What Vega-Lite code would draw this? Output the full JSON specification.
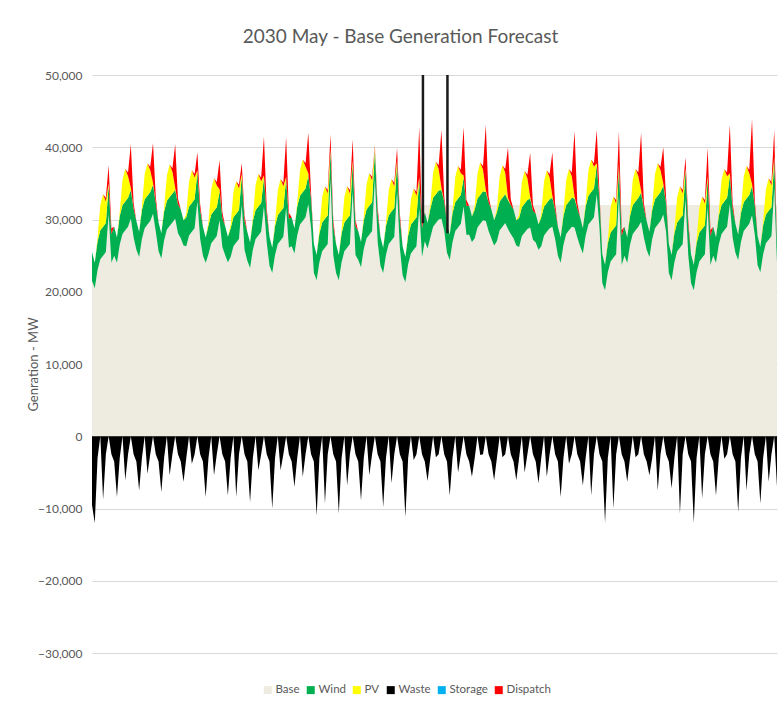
{
"$schema": "https://vega.github.io/schema/vega-lite/v6.json",
"width": 685,
"height": 578,
"autosize": "none",
"padding": {"left": 92, "top": 75, "right": 5, "bottom": 66},
"background": "white",
"title": {"text": "2030 May - Base Generation Forecast", "fontSize": 19, "font": "Lato", "fontWeight": "normal", "color": "#595959", "anchor": "middle", "dx": -34, "offset": 22},
"config": {"view": {"stroke": null}},
"datasets": {
"plateau": [{"t":358,"v":32000},{"t":741,"v":32000}],
"spikes": [{"t":358,"lo":29500,"hi":50000},{"t":384.5,"lo":28100,"hi":50000}],
"gen": [
{"t":0,"b":21500,"w":25500,"p":25500,"d":25500,"x":-9500},
{"t":3,"b":20500,"w":24000,"p":24000,"d":24000,"x":-12000},
{"t":6,"b":23000,"w":27000,"p":27500,"d":27500,"x":-3000},
{"t":9,"b":24500,"w":28500,"p":32000,"d":32000,"x":0},
{"t":12,"b":25000,"w":29000,"p":33500,"d":33500,"x":-8800},
{"t":15,"b":25500,"w":29500,"p":32500,"d":33000,"x":-2500},
{"t":18,"b":30700,"w":34700,"p":35000,"d":37500,"x":0},
{"t":21,"b":24000,"w":28000,"p":28000,"d":28800,"x":-2500},
{"t":24,"b":25000,"w":29000,"p":29000,"d":29000,"x":-3500},
{"t":27,"b":24000,"w":27500,"p":27500,"d":27500,"x":-8400},
{"t":30,"b":26500,"w":30500,"p":31000,"d":31000,"x":-3000},
{"t":33,"b":28000,"w":32000,"p":35500,"d":35500,"x":0},
{"t":36,"b":28500,"w":32500,"p":37000,"d":37000,"x":-6100},
{"t":39,"b":29000,"w":33000,"p":36000,"d":36500,"x":-2500},
{"t":42,"b":30100,"w":34100,"p":34400,"d":40400,"x":0},
{"t":45,"b":27500,"w":31500,"p":31500,"d":32300,"x":-2500},
{"t":48,"b":25800,"w":29800,"p":29800,"d":29800,"x":-3500},
{"t":51,"b":24800,"w":28300,"p":28300,"d":28300,"x":-7500},
{"t":54,"b":27300,"w":31300,"p":31800,"d":31800,"x":-3000},
{"t":57,"b":28800,"w":32800,"p":36300,"d":36300,"x":0},
{"t":60,"b":29300,"w":33300,"p":37800,"d":37800,"x":-5200},
{"t":63,"b":29800,"w":33800,"p":36800,"d":37300,"x":-2500},
{"t":66,"b":30800,"w":34800,"p":35100,"d":40600,"x":0},
{"t":69,"b":28300,"w":32300,"p":32300,"d":33100,"x":-2500},
{"t":72,"b":25600,"w":29600,"p":29600,"d":29600,"x":-3500},
{"t":75,"b":24600,"w":28100,"p":28100,"d":28100,"x":-7700},
{"t":78,"b":27100,"w":31100,"p":31600,"d":31600,"x":-3000},
{"t":81,"b":28600,"w":32600,"p":36100,"d":36100,"x":0},
{"t":84,"b":29100,"w":33100,"p":37600,"d":37600,"x":-5400},
{"t":87,"b":29600,"w":33600,"p":36600,"d":37100,"x":-2500},
{"t":90,"b":30100,"w":34100,"p":34400,"d":40400,"x":0},
{"t":93,"b":28100,"w":32100,"p":32100,"d":32900,"x":-2500},
{"t":96,"b":27400,"w":31400,"p":31400,"d":31400,"x":-3500},
{"t":99,"b":26400,"w":29900,"p":29900,"d":29900,"x":-6300},
{"t":102,"b":26300,"w":30300,"p":30800,"d":30800,"x":-3000},
{"t":105,"b":27800,"w":31800,"p":35300,"d":35300,"x":0},
{"t":108,"b":28300,"w":32300,"p":36800,"d":36800,"x":-3800},
{"t":111,"b":28800,"w":32800,"p":35800,"d":36300,"x":-2500},
{"t":114,"b":32500,"w":36500,"p":36800,"d":39300,"x":0},
{"t":117,"b":27300,"w":31300,"p":31300,"d":32100,"x":-2500},
{"t":120,"b":25000,"w":29000,"p":29000,"d":29000,"x":-3500},
{"t":123,"b":24000,"w":27500,"p":27500,"d":27500,"x":-8400},
{"t":126,"b":25200,"w":29200,"p":29700,"d":29700,"x":-3000},
{"t":129,"b":26700,"w":30700,"p":34200,"d":34200,"x":0},
{"t":132,"b":27200,"w":31200,"p":35700,"d":35700,"x":-5400},
{"t":135,"b":27700,"w":31700,"p":34700,"d":35200,"x":-2500},
{"t":138,"b":29900,"w":33900,"p":34200,"d":38200,"x":0},
{"t":141,"b":26200,"w":30200,"p":30200,"d":31000,"x":-2500},
{"t":144,"b":25100,"w":29100,"p":29100,"d":29100,"x":-3500},
{"t":147,"b":24100,"w":27600,"p":27600,"d":27600,"x":-8200},
{"t":150,"b":24800,"w":28800,"p":29300,"d":29300,"x":-3000},
{"t":153,"b":26300,"w":30300,"p":33800,"d":33800,"x":0},
{"t":156,"b":26800,"w":30800,"p":35300,"d":35300,"x":-8400},
{"t":159,"b":27300,"w":31300,"p":34300,"d":34800,"x":-2500},
{"t":162,"b":32000,"w":36000,"p":36300,"d":37800,"x":0},
{"t":165,"b":25800,"w":29800,"p":29800,"d":30600,"x":-2500},
{"t":168,"b":24300,"w":28300,"p":28300,"d":28300,"x":-3500},
{"t":171,"b":23300,"w":26800,"p":26800,"d":26800,"x":-9100},
{"t":174,"b":25800,"w":29800,"p":30300,"d":30300,"x":-3000},
{"t":177,"b":27300,"w":31300,"p":34800,"d":34800,"x":0},
{"t":180,"b":27800,"w":31800,"p":36300,"d":36300,"x":-4700},
{"t":183,"b":28300,"w":32300,"p":35300,"d":35800,"x":-2500},
{"t":186,"b":31800,"w":35800,"p":36100,"d":41500,"x":0},
{"t":189,"b":26800,"w":30800,"p":30800,"d":31600,"x":-2500},
{"t":192,"b":23600,"w":27600,"p":27600,"d":27600,"x":-3500},
{"t":195,"b":22600,"w":26100,"p":26100,"d":26100,"x":-10000},
{"t":198,"b":25100,"w":29100,"p":29600,"d":29600,"x":-3000},
{"t":201,"b":26600,"w":30600,"p":34100,"d":34100,"x":0},
{"t":204,"b":27100,"w":31100,"p":35600,"d":35600,"x":-4700},
{"t":207,"b":27600,"w":31600,"p":34600,"d":35100,"x":-2500},
{"t":210,"b":31600,"w":35600,"p":35900,"d":41400,"x":0},
{"t":213,"b":26100,"w":30100,"p":30100,"d":30900,"x":-2500},
{"t":216,"b":26300,"w":30300,"p":30300,"d":30300,"x":-3500},
{"t":219,"b":25300,"w":28800,"p":28800,"d":28800,"x":-7000},
{"t":222,"b":27800,"w":31800,"p":32300,"d":32300,"x":-3000},
{"t":225,"b":29300,"w":33300,"p":36800,"d":36800,"x":0},
{"t":228,"b":29800,"w":33800,"p":38300,"d":38300,"x":-5600},
{"t":231,"b":30300,"w":34300,"p":37300,"d":37800,"x":-2500},
{"t":234,"b":32100,"w":36100,"p":36400,"d":42000,"x":0},
{"t":237,"b":28800,"w":32800,"p":32800,"d":33600,"x":-2500},
{"t":240,"b":22600,"w":26600,"p":26600,"d":26600,"x":-3500},
{"t":243,"b":21600,"w":25100,"p":25100,"d":25100,"x":-11000},
{"t":246,"b":24100,"w":28100,"p":28600,"d":28600,"x":-3000},
{"t":249,"b":25600,"w":29600,"p":33100,"d":33100,"x":0},
{"t":252,"b":26100,"w":30100,"p":34600,"d":34600,"x":-9300},
{"t":255,"b":26600,"w":30600,"p":33600,"d":34100,"x":-2500},
{"t":258,"b":35500,"w":39500,"p":39800,"d":41800,"x":0},
{"t":261,"b":25100,"w":29100,"p":29100,"d":29900,"x":-2500},
{"t":264,"b":22600,"w":26600,"p":26600,"d":26600,"x":-3500},
{"t":267,"b":21600,"w":25100,"p":25100,"d":25100,"x":-10700},
{"t":270,"b":24100,"w":28100,"p":28600,"d":28600,"x":-3000},
{"t":273,"b":25600,"w":29600,"p":33100,"d":33100,"x":0},
{"t":276,"b":26100,"w":30100,"p":34600,"d":34600,"x":-6800},
{"t":279,"b":26600,"w":30600,"p":33600,"d":34100,"x":-2500},
{"t":282,"b":33900,"w":37900,"p":38200,"d":41100,"x":0},
{"t":285,"b":25100,"w":29100,"p":29100,"d":29900,"x":-2500},
{"t":288,"b":24400,"w":28400,"p":28400,"d":28400,"x":-3500},
{"t":291,"b":23400,"w":26900,"p":26900,"d":26900,"x":-8900},
{"t":294,"b":25900,"w":29900,"p":30400,"d":30400,"x":-3000},
{"t":297,"b":27400,"w":31400,"p":34900,"d":34900,"x":0},
{"t":300,"b":27900,"w":31900,"p":36400,"d":36400,"x":-5400},
{"t":303,"b":28400,"w":32400,"p":35400,"d":35900,"x":-2500},
{"t":306,"b":35600,"w":39600,"p":39900,"d":40200,"x":0},
{"t":309,"b":26900,"w":30900,"p":30900,"d":31700,"x":-2500},
{"t":312,"b":23600,"w":27600,"p":27600,"d":27600,"x":-3500},
{"t":315,"b":22600,"w":26100,"p":26100,"d":26100,"x":-9800},
{"t":318,"b":25100,"w":29100,"p":29600,"d":29600,"x":-3000},
{"t":321,"b":26600,"w":30600,"p":34100,"d":34100,"x":0},
{"t":324,"b":27100,"w":31100,"p":35600,"d":35600,"x":-6500},
{"t":327,"b":27600,"w":31600,"p":34600,"d":35100,"x":-2500},
{"t":330,"b":33900,"w":37900,"p":38200,"d":39900,"x":0},
{"t":333,"b":26100,"w":30100,"p":30100,"d":30900,"x":-2500},
{"t":336,"b":22300,"w":26300,"p":26300,"d":26300,"x":-3500},
{"t":339,"b":21300,"w":24800,"p":24800,"d":24800,"x":-11200},
{"t":342,"b":23800,"w":27800,"p":28300,"d":28300,"x":-3000},
{"t":345,"b":25300,"w":29300,"p":32800,"d":32800,"x":0},
{"t":348,"b":25800,"w":29800,"p":34300,"d":34300,"x":-3300},
{"t":351,"b":26300,"w":30300,"p":33300,"d":33800,"x":-2500},
{"t":354,"b":31500,"w":35500,"p":35800,"d":42800,"x":0},
{"t":357,"b":24800,"w":28800,"p":28800,"d":29600,"x":-2500},
{"t":360,"b":27000,"w":31000,"p":31000,"d":31000,"x":-3500},
{"t":363,"b":26000,"w":29500,"p":29500,"d":29500,"x":-6200},
{"t":366,"b":27500,"w":31500,"p":32000,"d":32000,"x":-3000},
{"t":369,"b":29000,"w":33000,"p":36500,"d":36500,"x":0},
{"t":372,"b":29500,"w":33500,"p":38000,"d":38000,"x":-2900},
{"t":375,"b":30000,"w":34000,"p":37000,"d":37500,"x":-2500},
{"t":378,"b":30100,"w":34100,"p":34400,"d":42400,"x":0},
{"t":381,"b":28500,"w":32500,"p":32500,"d":33300,"x":-2500},
{"t":384,"b":25400,"w":29400,"p":29400,"d":29400,"x":-3500},
{"t":387,"b":24400,"w":27900,"p":27900,"d":27900,"x":-8200},
{"t":390,"b":26900,"w":30900,"p":31400,"d":31400,"x":-3000},
{"t":393,"b":28400,"w":32400,"p":35900,"d":35900,"x":0},
{"t":396,"b":28900,"w":32900,"p":37400,"d":37400,"x":-5000},
{"t":399,"b":29400,"w":33400,"p":36400,"d":36900,"x":-2500},
{"t":402,"b":31800,"w":35800,"p":36100,"d":42800,"x":0},
{"t":405,"b":27900,"w":31900,"p":31900,"d":32700,"x":-2500},
{"t":408,"b":27900,"w":31900,"p":31900,"d":31900,"x":-3500},
{"t":411,"b":26900,"w":30400,"p":30400,"d":30400,"x":-5600},
{"t":414,"b":27400,"w":31400,"p":31900,"d":31900,"x":-3000},
{"t":417,"b":28900,"w":32900,"p":36400,"d":36400,"x":0},
{"t":420,"b":29400,"w":33400,"p":37900,"d":37900,"x":-2600},
{"t":423,"b":29900,"w":33900,"p":36900,"d":37400,"x":-2500},
{"t":426,"b":29800,"w":33800,"p":34100,"d":43100,"x":0},
{"t":429,"b":28400,"w":32400,"p":32400,"d":33200,"x":-2500},
{"t":432,"b":27400,"w":31400,"p":31400,"d":31400,"x":-3500},
{"t":435,"b":26400,"w":29900,"p":29900,"d":29900,"x":-6100},
{"t":438,"b":27000,"w":31000,"p":31500,"d":31500,"x":-3000},
{"t":441,"b":28500,"w":32500,"p":36000,"d":36000,"x":0},
{"t":444,"b":29000,"w":33000,"p":37500,"d":37500,"x":-2900},
{"t":447,"b":29500,"w":33500,"p":36500,"d":37000,"x":-2500},
{"t":450,"b":28700,"w":32700,"p":33000,"d":40000,"x":0},
{"t":453,"b":28000,"w":32000,"p":32000,"d":32800,"x":-2500},
{"t":456,"b":27400,"w":31400,"p":31400,"d":31400,"x":-3500},
{"t":459,"b":26400,"w":29900,"p":29900,"d":29900,"x":-6100},
{"t":462,"b":26200,"w":30200,"p":30700,"d":30700,"x":-3000},
{"t":465,"b":27700,"w":31700,"p":35200,"d":35200,"x":0},
{"t":468,"b":28200,"w":32200,"p":36700,"d":36700,"x":-5000},
{"t":471,"b":28700,"w":32700,"p":35700,"d":36200,"x":-2500},
{"t":474,"b":28900,"w":32900,"p":33200,"d":39200,"x":0},
{"t":477,"b":27200,"w":31200,"p":31200,"d":32000,"x":-2500},
{"t":480,"b":26800,"w":30800,"p":30800,"d":30800,"x":-3500},
{"t":483,"b":25800,"w":29300,"p":29300,"d":29300,"x":-6500},
{"t":486,"b":26300,"w":30300,"p":30800,"d":30800,"x":-3000},
{"t":489,"b":27800,"w":31800,"p":35300,"d":35300,"x":0},
{"t":492,"b":28300,"w":32300,"p":36800,"d":36800,"x":-5600},
{"t":495,"b":28800,"w":32800,"p":35800,"d":36300,"x":-2500},
{"t":498,"b":29000,"w":33000,"p":33300,"d":39300,"x":0},
{"t":501,"b":27300,"w":31300,"p":31300,"d":32100,"x":-2500},
{"t":504,"b":25000,"w":29000,"p":29000,"d":29000,"x":-3500},
{"t":507,"b":24000,"w":27500,"p":27500,"d":27500,"x":-8400},
{"t":510,"b":26500,"w":30500,"p":31000,"d":31000,"x":-3000},
{"t":513,"b":28000,"w":32000,"p":35500,"d":35500,"x":0},
{"t":516,"b":28500,"w":32500,"p":37000,"d":37000,"x":-3800},
{"t":519,"b":29000,"w":33000,"p":36000,"d":36500,"x":-2500},
{"t":522,"b":28900,"w":32900,"p":33200,"d":42200,"x":0},
{"t":525,"b":27500,"w":31500,"p":31500,"d":32300,"x":-2500},
{"t":528,"b":26300,"w":30300,"p":30300,"d":30300,"x":-3500},
{"t":531,"b":25300,"w":28800,"p":28800,"d":28800,"x":-6800},
{"t":534,"b":27800,"w":31800,"p":32300,"d":32300,"x":-3000},
{"t":537,"b":29300,"w":33300,"p":36800,"d":36800,"x":0},
{"t":540,"b":29800,"w":33800,"p":38300,"d":38300,"x":-8200},
{"t":543,"b":30300,"w":34300,"p":37300,"d":37800,"x":-2500},
{"t":546,"b":33500,"w":37500,"p":37800,"d":42400,"x":0},
{"t":549,"b":28800,"w":32800,"p":32800,"d":33600,"x":-2500},
{"t":552,"b":21200,"w":25200,"p":25200,"d":25200,"x":-3500},
{"t":555,"b":20200,"w":23700,"p":23700,"d":23700,"x":-12000},
{"t":558,"b":22700,"w":26700,"p":27200,"d":27200,"x":-3000},
{"t":561,"b":24200,"w":28200,"p":31700,"d":31700,"x":0},
{"t":564,"b":24700,"w":28700,"p":33200,"d":33200,"x":-10000},
{"t":567,"b":25200,"w":29200,"p":32200,"d":32700,"x":-2500},
{"t":570,"b":33300,"w":37300,"p":37600,"d":42200,"x":0},
{"t":573,"b":23700,"w":27700,"p":27700,"d":28500,"x":-2500},
{"t":576,"b":25000,"w":29000,"p":29000,"d":29000,"x":-3500},
{"t":579,"b":24000,"w":27500,"p":27500,"d":27500,"x":-6300},
{"t":582,"b":26500,"w":30500,"p":31000,"d":31000,"x":-3000},
{"t":585,"b":28000,"w":32000,"p":35500,"d":35500,"x":0},
{"t":588,"b":28500,"w":32500,"p":37000,"d":37000,"x":-2900},
{"t":591,"b":29000,"w":33000,"p":36000,"d":36500,"x":-2500},
{"t":594,"b":29700,"w":33700,"p":34000,"d":42000,"x":0},
{"t":597,"b":27500,"w":31500,"p":31500,"d":32300,"x":-2500},
{"t":600,"b":25800,"w":29800,"p":29800,"d":29800,"x":-3500},
{"t":603,"b":24800,"w":28300,"p":28300,"d":28300,"x":-5400},
{"t":606,"b":27300,"w":31300,"p":31800,"d":31800,"x":-3000},
{"t":609,"b":28800,"w":32800,"p":36300,"d":36300,"x":0},
{"t":612,"b":29300,"w":33300,"p":37800,"d":37800,"x":-7500},
{"t":615,"b":29800,"w":33800,"p":36800,"d":37300,"x":-2500},
{"t":618,"b":30700,"w":34700,"p":35000,"d":40000,"x":0},
{"t":621,"b":28300,"w":32300,"p":32300,"d":33100,"x":-2500},
{"t":624,"b":22600,"w":26600,"p":26600,"d":26600,"x":-3500},
{"t":627,"b":21600,"w":25100,"p":25100,"d":25100,"x":-7200},
{"t":630,"b":24100,"w":28100,"p":28600,"d":28600,"x":-3000},
{"t":633,"b":25600,"w":29600,"p":33100,"d":33100,"x":0},
{"t":636,"b":26100,"w":30100,"p":34600,"d":34600,"x":-10700},
{"t":639,"b":26600,"w":30600,"p":33600,"d":34100,"x":-2500},
{"t":642,"b":32800,"w":36800,"p":37100,"d":38600,"x":0},
{"t":645,"b":25100,"w":29100,"p":29100,"d":29900,"x":-2500},
{"t":648,"b":21200,"w":25200,"p":25200,"d":25200,"x":-3500},
{"t":651,"b":20200,"w":23700,"p":23700,"d":23700,"x":-12000},
{"t":654,"b":22700,"w":26700,"p":27200,"d":27200,"x":-3000},
{"t":657,"b":24200,"w":28200,"p":31700,"d":31700,"x":0},
{"t":660,"b":24700,"w":28700,"p":33200,"d":33200,"x":-8600},
{"t":663,"b":25200,"w":29200,"p":32200,"d":32700,"x":-2500},
{"t":666,"b":31700,"w":35700,"p":36000,"d":40000,"x":0},
{"t":669,"b":23700,"w":27700,"p":27700,"d":28500,"x":-2500},
{"t":672,"b":25000,"w":29000,"p":29000,"d":29000,"x":-3500},
{"t":675,"b":24000,"w":27500,"p":27500,"d":27500,"x":-8200},
{"t":678,"b":26500,"w":30500,"p":31000,"d":31000,"x":-3000},
{"t":681,"b":28000,"w":32000,"p":35500,"d":35500,"x":0},
{"t":684,"b":28500,"w":32500,"p":37000,"d":37000,"x":-3100},
{"t":687,"b":29000,"w":33000,"p":36000,"d":36500,"x":-2500},
{"t":690,"b":32100,"w":36100,"p":36400,"d":43100,"x":0},
{"t":693,"b":27500,"w":31500,"p":31500,"d":32300,"x":-2500},
{"t":696,"b":25400,"w":29400,"p":29400,"d":29400,"x":-3500},
{"t":699,"b":24400,"w":27900,"p":27900,"d":27900,"x":-10500},
{"t":702,"b":26900,"w":30900,"p":31400,"d":31400,"x":-3000},
{"t":705,"b":28400,"w":32400,"p":35900,"d":35900,"x":0},
{"t":708,"b":28900,"w":32900,"p":37400,"d":37400,"x":-7500},
{"t":711,"b":29400,"w":33400,"p":36400,"d":36900,"x":-2500},
{"t":714,"b":30600,"w":34600,"p":34900,"d":43900,"x":0},
{"t":717,"b":27900,"w":31900,"p":31900,"d":32700,"x":-2500},
{"t":720,"b":23700,"w":27700,"p":27700,"d":27700,"x":-3500},
{"t":723,"b":22700,"w":26200,"p":26200,"d":26200,"x":-9300},
{"t":726,"b":25200,"w":29200,"p":29700,"d":29700,"x":-3000},
{"t":729,"b":26700,"w":30700,"p":34200,"d":34200,"x":0},
{"t":732,"b":27200,"w":31200,"p":35700,"d":35700,"x":-6300},
{"t":735,"b":27700,"w":31700,"p":34700,"d":35200,"x":-2500},
{"t":738,"b":34300,"w":38300,"p":38600,"d":42400,"x":0},
{"t":741,"b":24000,"w":26500,"p":26500,"d":26500,"x":-7000}
]
},
"layer": [
{
"data": {"name": "plateau"},
"mark": {"type": "area", "interpolate": "linear"},
"encoding": {
"x": {"field": "t", "type": "quantitative", "scale": {"domain": [0, 741], "nice": false, "zero": false}, "axis": null},
"y": {"field": "v", "type": "quantitative", "stack": null, "scale": {"domain": [-30000, 50000], "nice": false},
"axis": {"values": [-30000,-20000,-10000,0,10000,20000,30000,40000,50000], "format": ",d", "domain": false, "ticks": false, "labelPadding": 10, "labelFont": "Lato", "labelFontSize": 12, "labelColor": "#595959", "gridColor": "#D9D9D9", "gridWidth": 1,
"title": "Genration - MW", "titleFont": "Lato", "titleFontSize": 13, "titleFontWeight": "normal", "titleColor": "#595959", "titleX": -59, "titleY": 289, "titleAngle": -90, "titleAlign": "center", "titleBaseline": "middle"}},
"color": {"datum": "Base", "type": "nominal",
"scale": {"domain": ["Base","Wind","PV","Waste","Storage","Dispatch"], "range": ["#EEECE1","#00B050","#FFFF00","#000000","#00B0F0","#FF0000"]},
"legend": {"title": null, "orient": "none", "direction": "horizontal", "legendX": 170, "legendY": 609, "symbolType": "square", "symbolSize": 64, "symbolStrokeWidth": 0, "labelFont": "Lato", "labelFontSize": 11.5, "labelColor": "#595959", "labelOffset": 2, "columnPadding": 5}}
}
},
{
"data": {"name": "gen"},
"mark": {"type": "area", "interpolate": "linear"},
"encoding": {
"x": {"field": "t", "type": "quantitative"},
"y": {"field": "b", "type": "quantitative", "stack": null},
"y2": {"datum": 0},
"color": {"datum": "Base", "type": "nominal"}
}
},
{
"data": {"name": "gen"},
"mark": {"type": "area", "interpolate": "linear"},
"encoding": {
"x": {"field": "t", "type": "quantitative"},
"y": {"field": "b", "type": "quantitative", "stack": null},
"y2": {"field": "w"},
"color": {"datum": "Wind", "type": "nominal"}
}
},
{
"data": {"name": "gen"},
"mark": {"type": "area", "interpolate": "linear"},
"encoding": {
"x": {"field": "t", "type": "quantitative"},
"y": {"field": "w", "type": "quantitative", "stack": null},
"y2": {"field": "p"},
"color": {"datum": "PV", "type": "nominal"}
}
},
{
"data": {"name": "gen"},
"mark": {"type": "area", "interpolate": "linear"},
"encoding": {
"x": {"field": "t", "type": "quantitative"},
"y": {"field": "p", "type": "quantitative", "stack": null},
"y2": {"field": "d"},
"color": {"datum": "Dispatch", "type": "nominal"}
}
},
{
"data": {"name": "gen"},
"mark": {"type": "area", "interpolate": "linear"},
"encoding": {
"x": {"field": "t", "type": "quantitative"},
"y": {"field": "x", "type": "quantitative", "stack": null},
"y2": {"datum": 0},
"color": {"datum": "Waste", "type": "nominal"}
}
},
{
"data": {"name": "spikes"},
"mark": {"type": "rule", "color": "#1A1A1A", "strokeWidth": 2.5},
"encoding": {
"x": {"field": "t", "type": "quantitative"},
"y": {"field": "lo", "type": "quantitative"},
"y2": {"field": "hi"}
}
}
]
}
